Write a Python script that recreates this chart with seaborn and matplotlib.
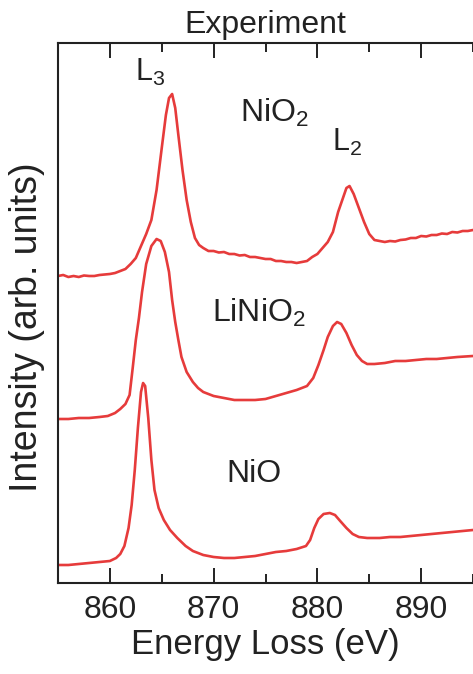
import matplotlib
matplotlib.use('Agg')
import matplotlib.pyplot as plt
from matplotlib.ticker import MultipleLocator
import seaborn as sns

# Ni L-edge EELS spectra (intensity in arb. units, offsets included)
nio2_e = [855.0, 855.5, 856.0, 856.5, 857.0, 857.5, 858.0, 858.5, 859.0, 859.5,
          860.0, 860.5, 861.0, 861.5, 862.0, 862.5, 863.0, 863.5, 864.0, 864.5,
          865.0, 865.4, 865.7, 866.0, 866.3, 866.6, 867.0, 867.4, 867.8, 868.2,
          868.6, 869.0, 869.5, 870.0, 870.5, 871.0, 871.5, 872.0, 872.5, 873.0,
          873.5, 874.0, 874.5, 875.0, 875.5, 876.0, 876.5, 877.0, 877.5, 878.0,
          878.5, 879.0, 879.5, 880.0, 880.5, 881.0, 881.5, 882.0, 882.4, 882.8,
          883.1, 883.5, 884.0, 884.5, 885.0, 885.5, 886.0, 886.5, 887.0, 887.5,
          888.0, 888.5, 889.0, 889.5, 890.0, 890.5, 891.0, 891.5, 892.0, 892.5,
          893.0, 893.5, 894.0, 894.5, 895.0]
nio2_i = [3.07, 3.08, 3.06, 3.07, 3.06, 3.075, 3.07, 3.07, 3.08, 3.085,
          3.09, 3.10, 3.12, 3.14, 3.19, 3.25, 3.37, 3.49, 3.63, 3.93,
          4.35, 4.68, 4.85, 4.89, 4.75, 4.48, 4.13, 3.83, 3.61, 3.45,
          3.38, 3.35, 3.32, 3.32, 3.305, 3.31, 3.29, 3.29, 3.275, 3.28,
          3.26, 3.26, 3.25, 3.24, 3.24, 3.22, 3.22, 3.21, 3.21, 3.20,
          3.21, 3.22, 3.26, 3.29, 3.35, 3.41, 3.51, 3.71, 3.83, 3.95,
          3.97, 3.89, 3.75, 3.61, 3.49, 3.43, 3.42, 3.41, 3.42, 3.415,
          3.43, 3.435, 3.45, 3.45, 3.47, 3.465, 3.48, 3.48, 3.495, 3.49,
          3.51, 3.505, 3.52, 3.52, 3.53]

linio2_e = [855.0, 856.0, 857.0, 858.0, 859.0, 859.8, 860.5, 861.0, 861.5, 861.9,
            862.2, 862.5, 862.8, 863.1, 863.5, 864.0, 864.5, 864.9, 865.3, 865.7,
            866.0, 866.3, 866.6, 866.9, 867.4, 868.0, 868.5, 869.0, 870.0, 871.0,
            872.0, 873.0, 874.0, 875.0, 876.0, 877.0, 878.0, 879.0, 879.6, 880.1,
            880.6, 881.0, 881.5, 881.9, 882.3, 882.8, 883.3, 883.8, 884.3, 884.8,
            885.5, 886.5, 887.5, 888.5, 889.5, 890.5, 891.5, 892.5, 893.5, 895.0]
linio2_i = [1.64, 1.64, 1.65, 1.65, 1.66, 1.67, 1.70, 1.74, 1.79, 1.88,
            2.15, 2.43, 2.65, 2.91, 3.19, 3.37, 3.44, 3.42, 3.31, 3.11,
            2.83, 2.61, 2.43, 2.26, 2.11, 2.01, 1.95, 1.91, 1.87, 1.85,
            1.83, 1.83, 1.83, 1.84, 1.87, 1.90, 1.93, 1.97, 2.05, 2.18,
            2.33, 2.46, 2.57, 2.61, 2.59, 2.50, 2.38, 2.28, 2.22, 2.19,
            2.19, 2.20, 2.22, 2.22, 2.23, 2.24, 2.24, 2.25, 2.26, 2.27]

nio_e = [855.0, 856.0, 857.0, 858.0, 859.0, 860.0, 860.6, 861.0, 861.4, 861.8,
         862.1, 862.4, 862.7, 863.0, 863.2, 863.4, 863.7, 864.0, 864.3, 864.7,
         865.2, 865.8, 866.5, 867.3, 868.0, 869.0, 870.0, 871.0, 872.0, 873.0,
         874.0, 875.0, 876.0, 877.0, 878.0, 878.9, 879.3, 879.7, 880.1, 880.6,
         881.2, 881.7, 882.2, 882.8, 883.4, 884.0, 884.8, 886.0, 887.0, 888.0,
         889.0, 890.0, 891.0, 892.0, 893.0, 894.0, 895.0]
nio_i = [0.18, 0.18, 0.19, 0.20, 0.21, 0.22, 0.25, 0.29, 0.37, 0.55,
         0.78, 1.13, 1.55, 1.91, 2.00, 1.97, 1.65, 1.23, 0.93, 0.75,
         0.63, 0.53, 0.45, 0.37, 0.32, 0.28, 0.26, 0.25, 0.25, 0.26,
         0.27, 0.29, 0.31, 0.32, 0.34, 0.37, 0.43, 0.55, 0.64, 0.69,
         0.70, 0.68, 0.62, 0.55, 0.49, 0.46, 0.45, 0.45, 0.46, 0.46,
         0.47, 0.48, 0.49, 0.50, 0.51, 0.52, 0.53]

spectra = [(nio2_e, nio2_i), (linio2_e, linio2_i), (nio_e, nio_i)]
labels = ['NiO$_2$', 'LiNiO$_2$', 'NiO']
label_pos = [(875.9, 4.70), (874.4, 2.70), (873.9, 1.09)]
edge_labels = ['L$_3$', 'L$_2$']
edge_pos = [(863.9, 5.11), (882.9, 4.41)]

line_color = '#e63b3b'
text_color = '#222222'

sns.set_style('ticks')
plt.rcParams['font.family'] = ['Liberation Sans', 'DejaVu Sans']
plt.rcParams['mathtext.fontset'] = 'custom'
plt.rcParams['mathtext.rm'] = 'Liberation Sans'
plt.rcParams['mathtext.it'] = 'Liberation Sans:italic'

fig = plt.figure(figsize=(4.73, 6.74), dpi=100)
ax = fig.add_axes([58 / 473, 1 - 583 / 674, 1 - 58 / 473, 540 / 674])

for e, i in spectra:
    sns.lineplot(x=e, y=i, ax=ax, color=line_color, linewidth=1.9, sort=False)

for txt, (x, y) in zip(labels, label_pos):
    ax.text(x, y, txt, ha='center', va='center', fontsize=23, color=text_color)
for txt, (x, y) in zip(edge_labels, edge_pos):
    ax.text(x, y, txt, ha='center', va='center', fontsize=22, color=text_color)

ax.set_xlim(855, 895)
ax.set_ylim(0, 5.4)
ax.xaxis.set_major_locator(MultipleLocator(10))
ax.xaxis.set_minor_locator(MultipleLocator(5))
ax.set_yticks([])
ax.tick_params(axis='x', which='both', direction='in', top=True, bottom=True,
               width=1.4, colors='#222222', labelsize=23, pad=9)
ax.tick_params(axis='x', which='major', length=11)
ax.tick_params(axis='x', which='minor', length=6.5)
ax.spines['right'].set_visible(False)
for s in ['left', 'top', 'bottom']:
    ax.spines[s].set_linewidth(1.5)
    ax.spines[s].set_color('#222222')

ax.set_xlabel('Energy Loss (eV)', fontsize=25, color=text_color, labelpad=2)
ax.set_ylabel('Intensity (arb. units)', fontsize=27, color=text_color)
ax.yaxis.set_label_coords(-0.031, 0.474)
ax.set_title('Experiment', fontsize=23, color=text_color, pad=7)

fig.savefig('out.png', dpi=100)
